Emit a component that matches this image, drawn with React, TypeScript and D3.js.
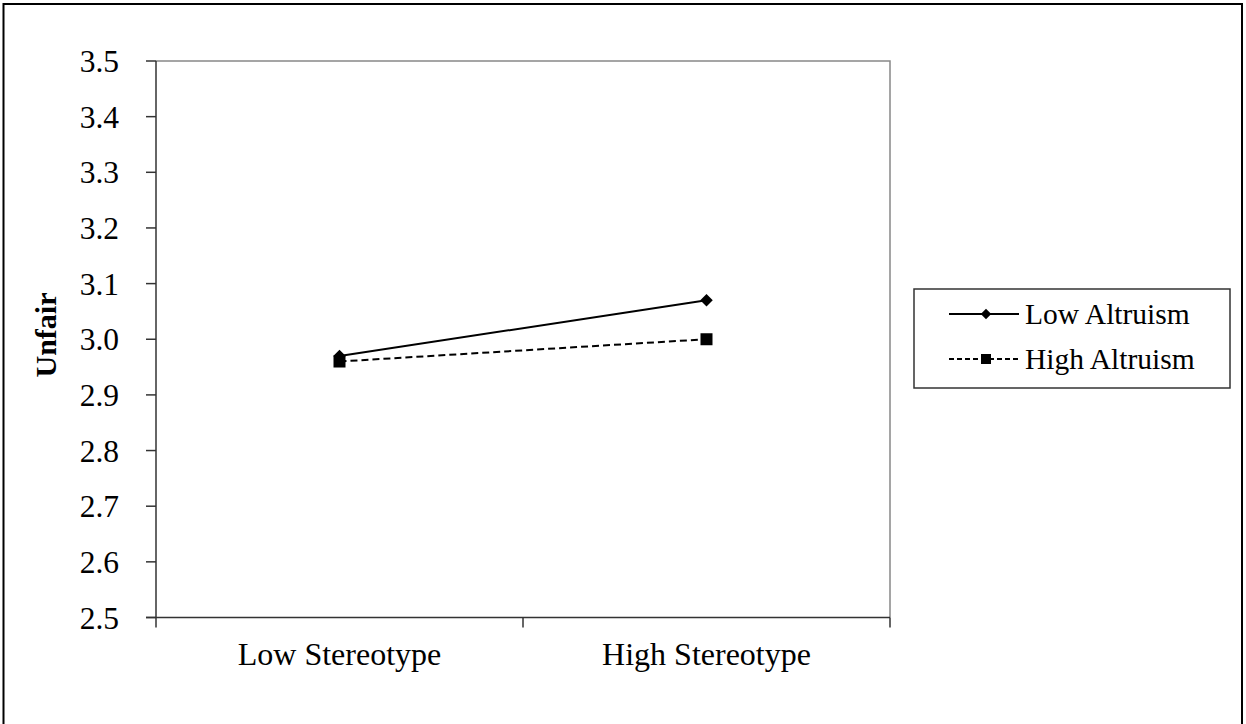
import React from "react";
import * as d3 from "d3";

const categories = ["Low Stereotype", "High Stereotype"];
const seriesNames = ["Low Altruism", "High Altruism"];
const lowAltruism = [2.97, 3.07];
const highAltruism = [2.96, 3.0];
const yTicks = [2.5, 2.6, 2.7, 2.8, 2.9, 3.0, 3.1, 3.2, 3.3, 3.4, 3.5];

const W = 1246;
const H = 724;
const FONT = "'Liberation Serif', 'Times New Roman', serif";

export default function App() {
  const left = 156, right = 890, top = 61, bottom = 617.5;
  const x = d3.scaleBand<string>().domain(categories).range([left, right]);
  const y = d3.scaleLinear().domain([2.5, 3.5]).range([bottom, top]);
  const line = d3
    .line<number>()
    .x((_, i) => (x(categories[i]) as number) + x.bandwidth() / 2)
    .y((v) => y(v));
  const series = [
    { name: seriesNames[0], values: lowAltruism, dash: "none", marker: "diamond" },
    { name: seriesNames[1], values: highAltruism, dash: "7,4", marker: "square" },
  ];
  const diamond = d3.symbol().type(d3.symbolDiamond2).size(100)();
  const square = d3.symbol().type(d3.symbolSquare).size(144)();
  const xBoundaries = [left, ...categories.map((c) => (x(c) as number) + x.bandwidth())];

  const legendX = 914, legendY = 289, legendW = 316, legendH = 99;
  return (
    <svg width={W} height={H} style={{ position: "absolute", left: 0, top: 0 }} fontFamily={FONT}>
      <rect x={0} y={0} width={W} height={H} fill="#fff" />
      <path d={`M3.5,${H} V4 H1242 V${H}`} fill="none" stroke="#000" strokeWidth={2} />
      {/* plot frame */}
      <path d={`M${left},${top} H${right} V${bottom}`} fill="none" stroke="#888" strokeWidth={1.5} />
      <line x1={left} x2={left} y1={top} y2={bottom} stroke="#333" strokeWidth={1.5} />
      <line x1={left - 10} x2={right} y1={bottom} y2={bottom} stroke="#333" strokeWidth={1.5} />
      {yTicks.map((t) => (
        <g key={t}>
          <line x1={left - 10} x2={left} y1={y(t)} y2={y(t)} stroke="#333" strokeWidth={1.5} />
          <text x={119} y={y(t)} dy="0.35em" textAnchor="end" fontSize={31.5} fill="#000">
            {t.toFixed(1)}
          </text>
        </g>
      ))}
      {xBoundaries.map((bx, i) => (
        <line key={i} x1={bx} x2={bx} y1={bottom} y2={bottom + 10} stroke="#333" strokeWidth={1.5} />
      ))}
      {categories.map((c) => (
        <text key={c} x={(x(c) as number) + x.bandwidth() / 2} y={665} textAnchor="middle" fontSize={32} fill="#000">
          {c}
        </text>
      ))}
      <text transform={`translate(56,335) rotate(-90)`} textAnchor="middle" fontSize={30} fontWeight="bold" fill="#000">
        Unfair
      </text>
      {series.map((s) => (
        <g key={s.name}>
          <path d={line(s.values) || ""} fill="none" stroke="#000" strokeWidth={2} strokeDasharray={s.dash} />
          {s.values.map((v, i) => (
            <path
              key={i}
              d={s.marker === "diamond" ? diamond! : square!}
              transform={`translate(${(x(categories[i]) as number) + x.bandwidth() / 2},${y(v)})`}
              fill="#000"
            />
          ))}
        </g>
      ))}
      <rect x={legendX} y={legendY} width={legendW} height={legendH} fill="none" stroke="#333" strokeWidth={1.5} />
      {series.map((s, i) => {
        const cy = 314 + i * 45;
        return (
          <g key={s.name}>
            <line x1={949} x2={1019} y1={cy} y2={cy} stroke="#000" strokeWidth={1.8} strokeDasharray={s.dash === "none" ? "none" : "5,3"} />
            <path
              d={s.marker === "diamond" ? d3.symbol().type(d3.symbolDiamond2).size(70)()! : d3.symbol().type(d3.symbolSquare).size(100)()!}
              transform={`translate(986,${cy})`}
              fill="#000"
            />
            <text x={1025} y={cy} dy="0.35em" fontSize={29.5} fill="#000">
              {s.name}
            </text>
          </g>
        );
      })}
    </svg>
  );
}
